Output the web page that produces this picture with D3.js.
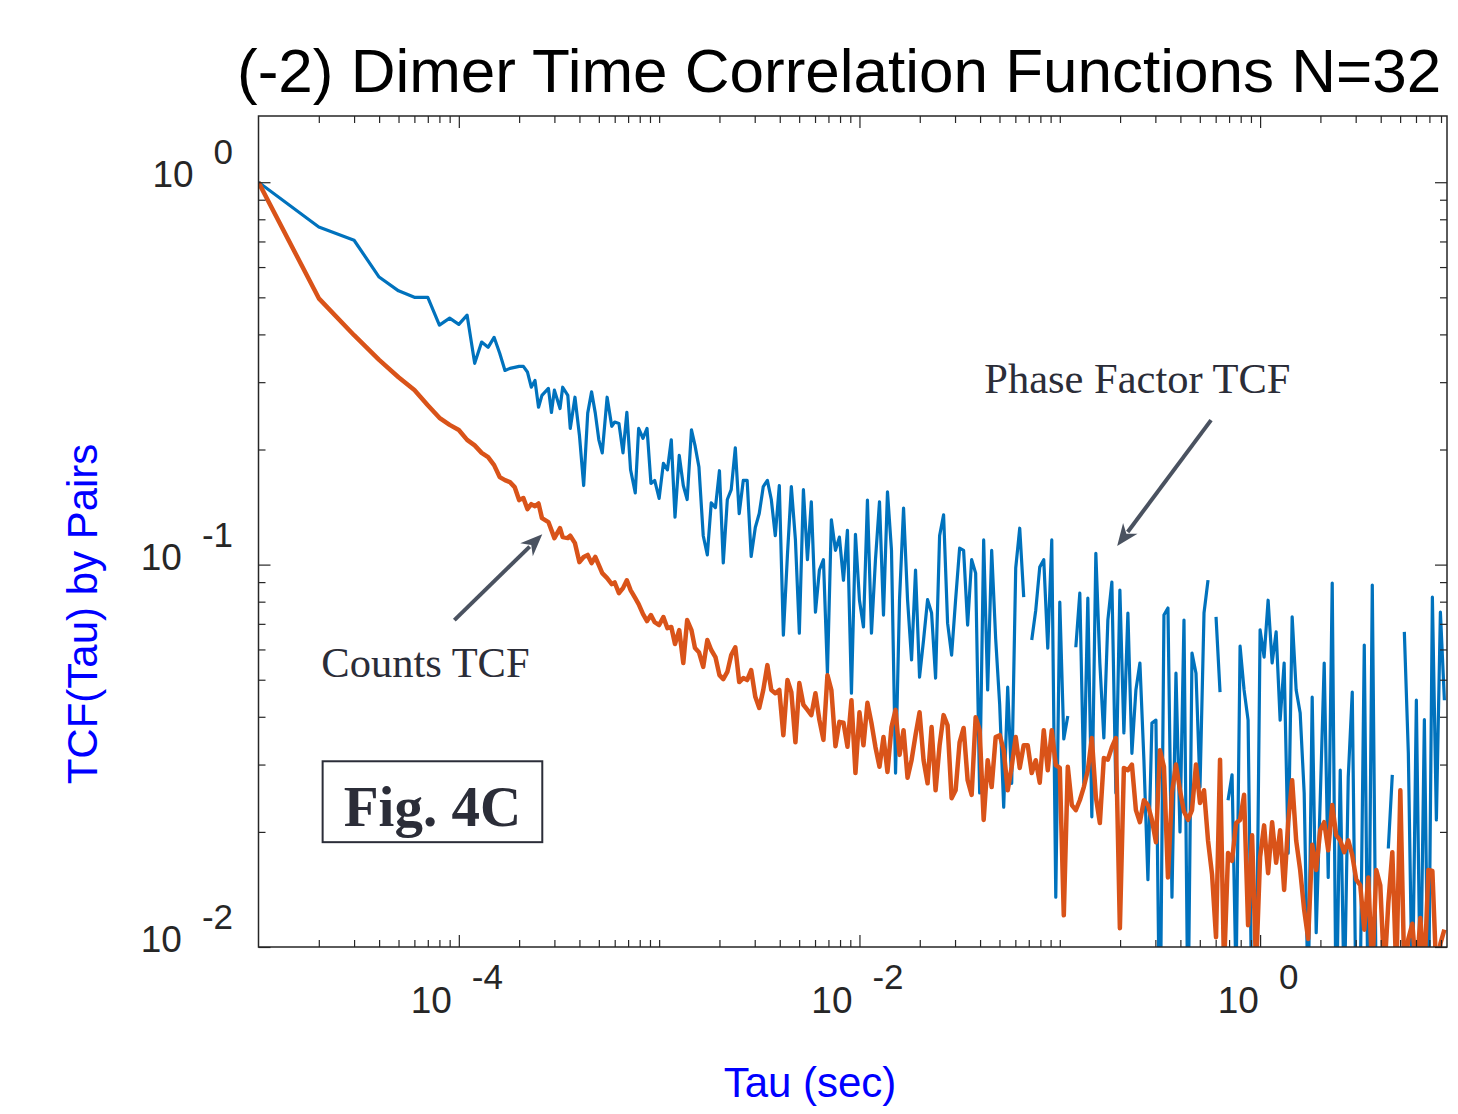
<!DOCTYPE html>
<html><head><meta charset="utf-8">
<script src="https://cdn.jsdelivr.net/npm/d3@7"></script>
<style>html,body{margin:0;padding:0;background:#fff;overflow:hidden}</style>
</head><body>
<svg id="chart" width="1458" height="1114" xmlns="http://www.w3.org/2000/svg"></svg>
<script>
// ---------------- data ----------------
const chartTitle = "(-2) Dimer Time Correlation Functions N=32";
const xLabel = "Tau (sec)";
const yLabel = "TCF(Tau) by Pairs";
const dt = 1e-5; // seconds per lag step

const lagSteps = [].concat(
  [1,2,3,4,5,6,7,8,9,10],
  [11,12,13,14,15,16,17,18,19,20,21,22,23,24,25,26,28,29,30,32,33,35,36,38,40,42,44,46,48,50,52,55,58,60,63,66,69,72,76,79,83,87,91,95,100],
  [105,110,115,120,126,132,138,145,151,158,166,174,182,191,200,209,219,229,240,251,263,275,288,302,316,331,347,363,380,398,417,437,457,479,501,525,550,575,603,631,661,692,724,759,794,832,871,912,955,1000],
  [1047,1096,1148,1202,1259,1318,1380,1445,1514,1585,1660,1738,1820,1905,1995,2089,2188,2291,2399,2512,2630,2754,2884,3020,3162,3311,3467,3631,3802,3981,4169,4365,4571,4786,5012,5248,5495,5754,6026,6310,6607,6918,7244,7586,7943,8318,8710,9120,9550,10000],
  [10471,10965,11482,12023,12589,13183,13804,14454,15136,15849,16596,17378,18197,19055,19953,20893,21878,22909,23988,25119,26303,27542,28840,30200,31623,33113,34674,36308,38019,39811,41687,43652,45709,47863,50119,52481,54954,57544,60256,63096,66069,69183,72444,75858,79433,83176,87096,91201,95499,100000],
  [104713,109648,114815,120226,125893,131826,138038,144544,151356,158489,165959,173780,181970,190546,199526,208930,218776,229087,239883,251189,263027,275423,288403,301995,316228,331131,346737,363078,380189,398107,416869,436516,457088,478630,501187,524807,549541,575440,602560,630957,660693,691831,724436,758578,794328,831764]
);

const phaseFactorTCF = [].concat(
  [1.0,0.764,0.705,0.565,0.520,0.500,0.500,0.423,0.441,0.425],
  [0.449,0.336,0.382,0.370,0.393,0.357,0.322,0.326,0.328,0.330,0.330,0.319,0.291,0.303,0.258,0.277,0.289,0.250,0.286,0.256,0.291,0.277,0.227,0.274,0.218,0.161,0.249,0.283,0.249,0.212,0.196,0.274,0.230,0.236,0.234,0.196,0.250,0.177,0.154,0.227,0.214,0.227,0.163,0.166,0.149],
  [0.184,0.177,0.212,0.133,0.193,0.161,0.148,0.225,0.205,0.180,0.119,0.106,0.145,0.141,0.176,0.101,0.148,0.157,0.202,0.136,0.166,0.166,0.105,0.125,0.136,0.160,0.166,0.148,0.119,0.161,0.0654,0.106,0.160,0.116,0.0662,0.157,0.103,0.146,0.0751,0.0968,0.103,0.052,0.131,0.109,0.118,0.091,0.123,0.0461,0.120,0.0807],
  [0.0687,0.1475,0.0662,0.103,0.146,0.0738,0.155,0.109,0.0285,0.081,0.1406,0.081,0.0563,0.0968,0.0508,0.0635,0.081,0.0747,0.0505,0.119,0.135,0.0703,0.058,0.081,0.1104,0.109,0.0695,0.103,0.095,0.0253,0.116,0.047,0.109,0.064,0.043,0.0232,0.0478,0.0268,0.098,0.1245,0.0822,null,0.0635,0.076,0.0985,0.103,0.0605,0.116,0.0135,0.0798],
  [0.035,0.0402,null,0.0608,0.0842,0.0268,0.0817,0.0219,0.107,0.0553,0.0352,0.0716,0.090,0.0253,0.0858,0.0363,0.0747,0.0321,0.047,0.0553,0.0308,0.015,0.0385,0.0392,0.005,0.0738,0.077,0.0135,0.052,0.02,0.0716,0.006,0.0587,0.052,0.0262,0.0747,0.0911,null,0.073,0.0464,null,0.0242,0.0282,0.008,0.0612,0.047,0.0392,0.006,0.007,0.0675],
  [0.0573,0.0807,0.0553,0.0667,0.0392,0.0553,0.0176,0.073,0.047,0.0409,0.0253,0.007,0.045,0.0109,0.0242,0.0553,0.0152,0.0895,0.006,0.029,0.007,0.0278,0.0464,0.006,0.008,0.0616,0.006,0.0884,0.007,null,null,0.0181,0.0282,null,null,0.0667,0.0321,0.007,0.0442,0.007,0.0393,0.006,0.0822,0.0215,0.0751,0.0442]
);

const countsTCF = [].concat(
  [1.0,0.497,0.398,0.343,0.309,0.286,0.261,0.242,0.232,0.225],
  [0.212,0.205,0.196,0.191,0.182,0.1694,0.1663,0.1643,0.1595,0.1475,0.1493,0.1397,0.1439,0.1422,0.1445,0.1323,0.1292,0.1231,0.1173,0.1245,0.118,0.1173,0.119,0.1138,0.1015,0.1047,0.106,0.1009,0.1047,0.0997,0.095,0.0922,0.0889,0.0898,0.0842,0.0868,0.091,0.0858,0.0817,0.0788,0.0743,0.0712,0.0738,0.0707,0.0695],
  [0.0729,0.0682,0.0687,0.062,0.0674,0.0553,0.0716,0.0674,0.0605,0.059,0.054,0.0635,0.0598,0.0573,0.0514,0.0502,0.0524,0.058,0.0608,0.0493,0.0505,0.0499,0.053,0.0451,0.0422,0.047,0.0546,0.047,0.0461,0.047,0.0358,0.0499,0.0464,0.0343,0.049,0.043,0.0417,0.0404,0.0461,0.0392,0.0348,0.0514,0.047,0.0335,0.0388,0.0386,0.0334,0.0442,0.0285,0.0411],
  [0.0337,0.0435,0.0385,0.0333,0.0296,0.0354,0.0287,0.0376,0.0417,0.0318,0.0369,0.0277,0.0308,0.0358,0.0411,0.0308,0.0268,0.0376,0.0257,0.0337,0.0404,0.038,0.0245,0.0257,0.0343,0.0374,0.0273,0.025,0.0399,0.0369,0.0215,0.0308,0.0262,0.0354,0.0358,0.0327,0.0257,0.0296,0.0354,0.0294,0.0337,0.0337,0.0285,0.0308,0.0269,0.0369,0.029,0.0369,0.0299,0.0294],
  [0.0121,0.0296,0.0235,0.0228,0.0242,0.0262,0.029,0.0352,0.0247,0.0211,0.0312,0.0309,0.0333,0.0352,0.0112,0.0294,0.029,0.030,0.0228,0.0212,0.0242,0.0235,0.0215,0.0188,0.0327,0.0296,0.0152,0.0253,0.030,0.0257,0.0226,0.0215,0.0228,0.030,0.0238,0.0257,0.019,0.0155,0.0106,0.0309,0.0088,0.0176,0.0168,0.0211,0.0215,0.025,0.0114,0.0196,0.0088,0.0172],
  [0.0208,0.0156,0.0212,0.0166,0.0202,0.0141,0.0212,0.0273,0.019,0.0159,0.0125,0.0105,0.0185,0.0159,0.0202,0.0212,0.0179,0.0235,0.0196,0.019,0.0177,0.019,0.0174,0.015,0.0145,0.0111,0.0152,0.0085,0.0159,0.0145,0.0085,0.013,0.0177,0.0085,0.0257,0.0085,0.0105,0.0115,0.0085,0.0119,0.0085,0.0159,0.0158,0.0085,0.0102,0.0111]
);

const xDomain = [1e-5, 8.57];
const yDomain = [0.01, 1.49];
const xTickValues = [1e-4, 1e-2, 1];
const xTickExponents = ["-4", "-2", "0"];
const yTickValues = [1, 0.1, 0.01];
const yTickExponents = ["0", "-1", "-2"];

// annotations (data coordinates)
const phaseLabel = {text: "Phase Factor TCF", tau: 0.042, v: 0.281};
const phaseArrow = {from: [0.569, 0.2387], to: [0.1934, 0.1118]};
const countsLabel = {text: "Counts TCF", tau: 2.06e-5, v: 0.0508};
const countsArrow = {from: [9.5e-5, 0.0716], to: [2.61e-4, 0.120]};
const figBox = {text: "Fig. 4C", tau0: 2.09e-5, tau1: 2.61e-4, v0: 0.0306, v1: 0.0188, vText: 0.0207};

// ---------------- drawing ----------------
const svg = d3.select("#chart");
const plot = {left: 258.5, right: 1447, top: 116, bottom: 947};
const x = d3.scaleLog().domain(xDomain).range([plot.left, plot.right]);
const y = d3.scaleLog().domain(yDomain).range([plot.bottom, plot.top]);
const axisColor = "#262626";
const sans = "'Liberation Sans', Arial, Helvetica, sans-serif";
const serif = "'Liberation Serif', 'Times New Roman', serif";

svg.append("rect").attr("width", 1458).attr("height", 1114).attr("fill", "#fff");

svg.append("defs").append("clipPath").attr("id", "clip").append("rect")
  .attr("x", plot.left).attr("y", plot.top)
  .attr("width", plot.right - plot.left).attr("height", plot.bottom - plot.top);

const tau = lagSteps.map(k => k * dt);
const series = [
  {values: phaseFactorTCF, color: "#0072BD", width: 3.2},
  {values: countsTCF, color: "#D95319", width: 4.5}
];
const line = d3.line()
  .defined(d => d[1] != null && d[1] > 0)
  .x(d => x(d[0])).y(d => y(d[1]));
const lines = svg.append("g").attr("clip-path", "url(#clip)");
series.forEach(s => {
  lines.append("path")
    .datum(tau.map((t, i) => [t, s.values[i]]))
    .attr("fill", "none").attr("stroke", s.color)
    .attr("stroke-width", s.width).attr("stroke-linejoin", "round")
    .attr("d", line);
});

// axes ticks (inward, on all four sides)
const isMajor = (t, majors) => majors.some(m => Math.abs(t / m - 1) < 1e-6);
const xMinor = x.ticks().filter(t => !isMajor(t, xTickValues) && t > xDomain[0] * 1.001);
const yMinor = y.ticks().filter(t => !isMajor(t, yTickValues) && t > yDomain[0] * 1.001);
function clean(g) {
  g.select(".domain").remove();
  g.selectAll("text").remove();
  g.selectAll("line").attr("stroke", axisColor).attr("stroke-width", 1.2);
}
const MAJ = 12, MIN = 7;
[[xTickValues, MAJ], [xMinor, MIN]].forEach(([vals, len]) => {
  svg.append("g").attr("transform", `translate(0,${plot.bottom})`)
    .call(d3.axisBottom(x).tickValues(vals).tickSize(-len).tickFormat("")).call(clean);
  svg.append("g").attr("transform", `translate(0,${plot.top})`)
    .call(d3.axisTop(x).tickValues(vals).tickSize(-len).tickFormat("")).call(clean);
});
[[yTickValues, MAJ], [yMinor, MIN]].forEach(([vals, len]) => {
  svg.append("g").attr("transform", `translate(${plot.left},0)`)
    .call(d3.axisLeft(y).tickValues(vals).tickSize(-len).tickFormat("")).call(clean);
  svg.append("g").attr("transform", `translate(${plot.right},0)`)
    .call(d3.axisRight(y).tickValues(vals).tickSize(-len).tickFormat("")).call(clean);
});

svg.append("rect")
  .attr("x", plot.left).attr("y", plot.top)
  .attr("width", plot.right - plot.left).attr("height", plot.bottom - plot.top)
  .attr("fill", "none").attr("stroke", axisColor).attr("stroke-width", 1.5);

// tick labels
svg.append("g").selectAll("text").data(xTickValues).join("text")
  .attr("x", d => x(d) - 2).attr("y", plot.bottom + 66)
  .attr("text-anchor", "middle").attr("font-family", sans).attr("font-size", 37)
  .attr("fill", axisColor)
  .each(function (d, i) {
    const t = d3.select(this);
    t.append("tspan").text("10");
    t.append("tspan").attr("dx", 20).attr("dy", -24).attr("font-size", 35).text(xTickExponents[i]);
  });

svg.append("g").selectAll("text").data(yTickValues).join("text")
  .attr("x", 233).attr("y", d => y(d) + 5)
  .attr("text-anchor", "end").attr("font-family", sans).attr("font-size", 37)
  .attr("fill", axisColor)
  .each(function (d, i) {
    const t = d3.select(this);
    t.append("tspan").text("10");
    t.append("tspan").attr("dx", 20).attr("dy", -23).attr("font-size", 35).text(yTickExponents[i]);
  });

// title and axis labels
svg.append("text").attr("x", 237).attr("y", 92)
  .attr("text-anchor", "start").attr("font-family", sans).attr("font-size", 62)
  .attr("fill", "#000").text(chartTitle);

svg.append("text").attr("x", 810).attr("y", 1097)
  .attr("text-anchor", "middle").attr("font-family", sans).attr("font-size", 42)
  .attr("fill", "#0000FF").text(xLabel);

svg.append("text").attr("transform", "translate(97,614) rotate(-90)")
  .attr("text-anchor", "middle").attr("font-family", sans).attr("font-size", 42)
  .attr("fill", "#0000FF").text(yLabel);

// annotations
const annColor = "#2b2d38";
[phaseLabel, countsLabel].forEach(a => {
  svg.append("text").attr("x", x(a.tau)).attr("y", y(a.v))
    .attr("font-family", serif).attr("font-size", 42.5)
    .attr("fill", annColor).text(a.text);
});

function arrow(a) {
  const x0 = x(a.from[0]), y0 = y(a.from[1]);
  const x1 = x(a.to[0]), y1 = y(a.to[1]);
  const dx = x1 - x0, dy = y1 - y0, len = Math.hypot(dx, dy);
  const ux = dx / len, uy = dy / len, nx = -uy, ny = ux;
  const L = 22, w = 9;
  const g = svg.append("g");
  g.append("line").attr("x1", x0).attr("y1", y0)
    .attr("x2", x1 - ux * L * 0.8).attr("y2", y1 - uy * L * 0.8)
    .attr("stroke", "#4a5260").attr("stroke-width", 4);
  g.append("path")
    .attr("d", `M${x1},${y1}L${x1 - ux * L + nx * w},${y1 - uy * L + ny * w}L${x1 - ux * L * 0.7},${y1 - uy * L * 0.7}L${x1 - ux * L - nx * w},${y1 - uy * L - ny * w}Z`)
    .attr("fill", "#4a5260");
}
arrow(phaseArrow);
arrow(countsArrow);

svg.append("rect")
  .attr("x", x(figBox.tau0)).attr("y", y(figBox.v0))
  .attr("width", x(figBox.tau1) - x(figBox.tau0)).attr("height", y(figBox.v1) - y(figBox.v0))
  .attr("fill", "#fff").attr("stroke", "#2b2d38").attr("stroke-width", 2);
svg.append("text")
  .attr("x", (x(figBox.tau0) + x(figBox.tau1)) / 2).attr("y", y(figBox.vText))
  .attr("text-anchor", "middle").attr("font-family", serif).attr("font-weight", "bold")
  .attr("font-size", 57).attr("fill", "#2b2d38").text(figBox.text);
</script>
</body></html>
